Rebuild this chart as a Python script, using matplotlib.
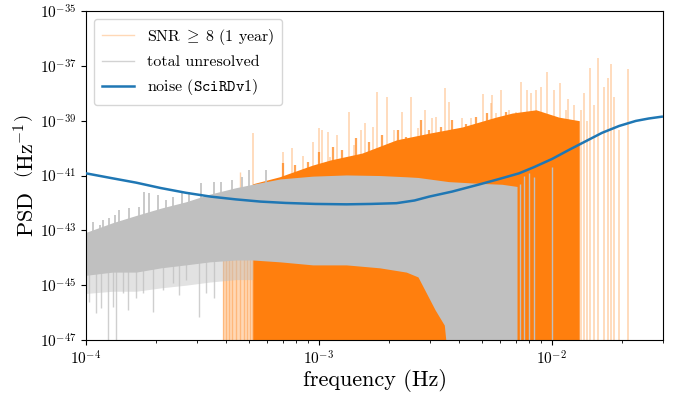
import matplotlib
matplotlib.use('Agg')
import matplotlib.pyplot as plt
import matplotlib.ticker as mtick

#######################################################################
#                                Data                                 #
#######################################################################
# LISA noise curve (SciRDv1)
noise_f = [1.00e-4, 1.28e-4, 1.64e-4, 2.09e-4, 2.68e-4, 3.43e-4, 4.39e-4,
           5.61e-4, 7.19e-4, 9.66e-4, 1.31e-3, 1.67e-3, 2.15e-3, 2.57e-3,
           2.97e-3, 3.73e-3, 4.86e-3, 5.91e-3, 7.22e-3, 8.35e-3, 1.00e-2,
           1.18e-2, 1.40e-2, 1.64e-2, 1.94e-2, 2.29e-2, 2.60e-2, 2.96e-2]
noise_psd = [1.2e-41, 8.1e-42, 5.5e-42, 3.5e-42, 2.35e-42, 1.7e-42, 1.35e-42,
             1.12e-42, 1.0e-42, 9.2e-43, 8.9e-43, 9.2e-43, 9.8e-43, 1.23e-42,
             1.7e-42, 2.6e-42, 4.7e-42, 7.4e-42, 1.2e-41, 2.0e-41, 4.0e-41,
             8.5e-41, 1.8e-40, 3.6e-40, 6.4e-40, 9.8e-40, 1.2e-39, 1.4e-39]

# total unresolved (grey): solid band
grey_f = [1.00e-4, 1.30e-4, 1.64e-4, 2.10e-4, 2.68e-4, 3.40e-4, 4.40e-4,
          5.19e-4, 6.80e-4, 9.40e-4, 1.31e-3, 1.82e-3, 2.37e-3, 2.66e-3,
          3.15e-3, 3.45e-3, 3.60e-3, 4.86e-3, 6.10e-3, 7.08e-3]
grey_hi = [8.5e-44, 1.9e-43, 3.5e-43, 6.5e-43, 1.1e-42, 2.1e-42, 3.6e-42,
           4.8e-42, 7.5e-42, 9.5e-42, 1.05e-41, 1.0e-41, 9.0e-42, 8.5e-42,
           7.0e-42, 6.3e-42, 6.0e-42, 5.2e-42, 4.8e-42, 4.0e-42]
grey_lo = [2.3e-45, 3.0e-45, 3.0e-45, 4.3e-45, 5.5e-45, 7.1e-45, 8.3e-45,
           8.3e-45, 7.1e-45, 5.5e-45, 5.5e-45, 4.3e-45, 3.0e-45, 2.0e-45,
           1.26e-46, 3.5e-47, 1e-48, 1e-48, 1e-48, 1e-48]
# fainter grey below the band, before the orange starts
grey_fringe_f = [1.00e-4, 1.30e-4, 1.64e-4, 2.10e-4, 2.68e-4, 3.40e-4,
                 4.40e-4, 5.19e-4]
grey_fringe_lo = [5.0e-46, 6.0e-46, 6.0e-46, 8.0e-46, 1.0e-45, 1.3e-45,
                  1.6e-45, 1.6e-45]

# grey single spikes above the band
grey_up_f = [1.07e-4, 1.15e-4, 1.18e-4, 1.26e-4, 1.33e-4, 1.39e-4, 1.53e-4,
             1.69e-4, 1.77e-4, 1.87e-4, 2.03e-4, 2.20e-4, 2.35e-4, 2.59e-4,
             2.77e-4, 3.11e-4, 3.54e-4, 3.78e-4, 4.25e-4, 4.69e-4, 5.00e-4,
             5.90e-4]
grey_up_psd = [2.1e-43, 1.6e-43, 2.4e-43, 2.75e-43, 3.7e-43, 5.5e-43,
               6.3e-43, 7.2e-43, 2.5e-42, 2.35e-42, 1.95e-42, 1.3e-42,
               1.7e-42, 2.24e-42, 2.57e-42, 5.2e-42, 5.9e-42, 5.9e-42,
               6.9e-42, 9.1e-42, 1.6e-41, 1.6e-41]

# grey single spikes below the band
grey_dn_f = [1.03e-4, 1.10e-4, 1.16e-4, 1.24e-4, 1.30e-4, 1.35e-4, 1.44e-4,
             1.51e-4, 1.64e-4, 1.75e-4, 1.93e-4, 2.13e-4, 2.35e-4, 2.51e-4,
             2.68e-4, 3.06e-4, 3.27e-4, 3.54e-4]
grey_dn_psd = [2.5e-46, 9.8e-47, 1.5e-46, 1e-48, 1.6e-46, 1e-48, 5.2e-46,
               1.26e-46, 3.4e-46, 5.2e-46, 1.05e-46, 6.8e-46, 1.2e-45,
               4.4e-46, 1.55e-45, 6.9e-47, 5.2e-46, 3.4e-46]

# last grey lines past the end of the band
grey_tail_f = [7.30e-3, 7.59e-3, 7.97e-3, 8.37e-3, 9.99e-3]
grey_tail_psd = [5.0e-42, 1.0e-41, 1.2e-41, 9.0e-42, 2.0e-41]

# SNR >= 8 sources (orange): solid envelope
orange_f = [5.19e-4, 6.77e-4, 9.38e-4, 1.12e-3, 1.53e-3, 2.15e-3, 2.97e-3,
            4.12e-3, 5.75e-3, 6.75e-3, 8.54e-3, 1.07e-2, 1.31e-2]
orange_hi = [5.0e-42, 9.0e-42, 2.4e-41, 3.7e-41, 6.6e-41, 2.0e-40, 3.5e-40,
             5.9e-40, 1.35e-39, 1.9e-39, 2.5e-39, 1.35e-39, 1.0e-39]

# dense orange peaks just above the envelope
peak_f = [7.00e-4, 7.85e-4, 8.95e-4, 1.00e-3, 1.15e-3, 1.26e-3, 1.44e-3,
          1.64e-3, 1.87e-3, 2.04e-3, 2.18e-3, 2.36e-3, 2.74e-3, 2.97e-3,
          3.34e-3, 3.74e-3, 4.27e-3, 4.71e-3, 5.28e-3, 5.83e-3, 6.34e-3,
          6.87e-3]
peak_psd = [2.8e-41, 2.4e-41, 3.2e-41, 7.4e-41, 1.1e-40, 8.5e-41, 2.3e-40,
            1.7e-40, 3.0e-40, 1.5e-40, 4.6e-40, 2.6e-40, 1.05e-39, 4.6e-40,
            6.0e-40, 1.05e-39, 7.9e-40, 1.4e-39, 1.86e-39, 1.23e-39, 2.1e-39,
            1.05e-39]

# faint orange lines where the sources start
orange_start_f = [3.86e-4, 3.98e-4, 4.10e-4, 4.22e-4, 4.39e-4, 4.57e-4,
                  4.75e-4, 4.90e-4, 5.05e-4]
orange_start_psd = [1.0e-44, 1.0e-44, 1.0e-44, 1.0e-44, 1.0e-44, 1.3e-41,
                    1.0e-44, 2.0e-42, 1.0e-44]

# individual faint orange spikes
spike_f = [5.19e-4, 6.98e-4, 7.63e-4, 8.53e-4, 9.38e-4, 9.95e-4, 1.03e-3,
           1.09e-3, 1.11e-3, 1.20e-3, 1.34e-3, 1.41e-3, 1.52e-3, 1.58e-3,
           1.70e-3, 1.78e-3, 1.95e-3, 2.10e-3, 2.28e-3, 2.49e-3, 2.65e-3,
           2.86e-3, 3.07e-3, 3.18e-3, 3.48e-3, 3.62e-3, 3.80e-3, 4.12e-3,
           4.50e-3, 5.07e-3, 5.46e-3, 5.54e-3, 5.74e-3, 6.05e-3, 6.55e-3,
           7.00e-3, 7.37e-3, 7.81e-3, 8.12e-3, 8.51e-3, 8.97e-3, 9.52e-3,
           1.02e-2, 1.08e-2, 1.15e-2, 1.17e-2, 1.24e-2, 1.33e-2, 1.37e-2,
           1.41e-2, 1.46e-2, 1.51e-2, 1.57e-2, 1.67e-2, 1.74e-2, 1.79e-2,
           1.85e-2, 1.94e-2, 2.12e-2]
spike_psd = [3.5e-40, 7.2e-41, 1.0e-40, 5.1e-41, 1.65e-40, 5.4e-40, 4.6e-40,
             3.9e-40, 4.9e-41, 3.0e-40, 2.1e-39, 1.3e-40, 4.6e-40, 8.3e-40,
             6.0e-40, 1.1e-38, 7.3e-39, 4.6e-40, 2.1e-39, 7.3e-39, 5.2e-40,
             2.5e-39, 1.23e-39, 1.35e-39, 1.55e-38, 4.8e-39, 3.5e-40,
             1.26e-39, 1.26e-39, 9.3e-39, 4.3e-39, 8.7e-39, 1.85e-39, 1.3e-38,
             2.5e-39, 2.1e-39, 2.6e-38, 1.3e-38, 1.0e-38, 1.3e-38, 1.7e-38,
             6.0e-38, 1.3e-38, 2.3e-38, 2.5e-39, 6.2e-39, 3.7e-39, 2.5e-39,
             1.0e-38, 1.0e-39, 8.3e-38, 3.7e-39, 1.9e-37, 1.7e-38, 3.6e-38,
             1.2e-37, 7.3e-39, 4.6e-40, 7.6e-38]

#######################################################################
#                                Style                                #
#######################################################################
plt.rcParams['font.family'] = 'serif'
plt.rcParams['font.serif'] = ['cmr10']
plt.rcParams['mathtext.fontset'] = 'cm'
plt.rcParams['axes.unicode_minus'] = False
plt.rcParams['axes.formatter.use_mathtext'] = True

orange = '#ff7f0e'
grey = '#c0c0c0'
blue = '#1f77b4'
floor = 1e-48

fig = plt.figure(figsize=(6.78, 3.94), dpi=100)
ax = fig.add_axes([0.127, 0.137, 0.851, 0.835])
ax.set_xscale('log')
ax.set_yscale('log')

# orange: SNR >= 8 sources
ax.fill_between(orange_f, floor, orange_hi, color=orange, lw=0, zorder=1)
ax.fill_between([3.86e-4, 5.19e-4], floor, 1e-44, color=orange, alpha=0.3,
                lw=0, zorder=1)
ax.vlines(orange_start_f, floor, orange_start_psd, color=orange, alpha=0.35,
          lw=1, zorder=1)
ax.vlines(peak_f, floor, peak_psd, color=orange, alpha=0.7, lw=1.6,
          zorder=1)
ax.vlines(spike_f, floor, spike_psd, color=orange, alpha=0.35, lw=1.1,
          zorder=1)

# grey: total unresolved
ax.fill_between(grey_fringe_f, grey_fringe_lo, 1e-44, color=grey,
                alpha=0.45, lw=0, zorder=2)
ax.fill_between(grey_f, grey_lo, grey_hi, color=grey, lw=0, zorder=2)
ax.vlines(grey_up_f, 1e-44, grey_up_psd, color=grey, lw=1.2, zorder=2)
ax.vlines(grey_dn_f, grey_dn_psd, 1e-44, color=grey, alpha=0.75, lw=1,
          zorder=2)
ax.vlines(grey_tail_f, floor, grey_tail_psd, color=grey, lw=1, zorder=2)

# noise curve
ax.plot(noise_f, noise_psd, color=blue, lw=1.8, zorder=3)

# legend handles
ax.plot([], [], color=orange, alpha=0.3, lw=1,
        label=r'SNR$\;\geq\;$8 (1 year)')
ax.plot([], [], color=grey, alpha=0.7, lw=1, label='total unresolved')
ax.plot([], [], color=blue, lw=1.8, label=r'noise ($\mathtt{SciRDv1}$)')
h, l = ax.get_legend_handles_labels()
ax.legend(h, l, loc='upper left', fontsize=11.5, framealpha=0.8,
          borderpad=0.5, handlelength=2.0)

ax.set_xlim(1e-4, 3e-2)
ax.set_ylim(1e-47, 1e-35)
ax.set_yticks([1e-47, 1e-45, 1e-43, 1e-41, 1e-39, 1e-37, 1e-35])
ax.yaxis.set_minor_locator(mtick.NullLocator())
ax.tick_params(labelsize=11)
ax.set_xlabel('frequency (Hz)', fontsize=16, labelpad=1)
ax.set_ylabel(r'PSD  $\left(\mathrm{Hz}^{-1}\right)$', fontsize=16,
              labelpad=1)

fig.savefig('out.png', dpi=100)
